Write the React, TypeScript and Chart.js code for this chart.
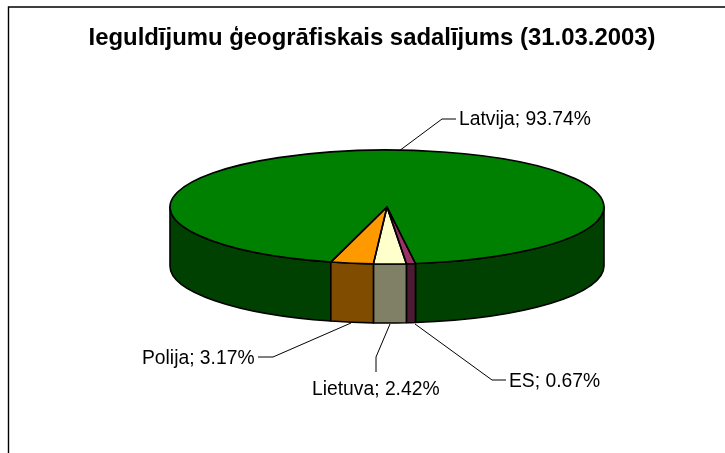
import React, { useEffect, useRef } from "react";
import { Chart, registerables } from "chart.js";

Chart.register(...registerables);

const titleText = "Ieguldījumu ģeogrāfiskais sadalījums (31.03.2003)";
const categories = ["Latvija", "ES", "Lietuva", "Polija"];
const values = [93.74, 0.67, 2.42, 3.17];
const colors = ["#008000", "#993366", "#FFFFCC", "#FF9900"];

// Layout of the tilted pie, in canvas pixels
const PIE = { cx: 387, cy: 207, rx: 217, ry: 57, depth: 59 };
// Label placement: text left, text middle y, leader polyline
const labelLayout = [
  { x: 459, y: 119.5, line: [[399, 151], [442, 119], [456, 119]] },
  { x: 509, y: 381.5, line: [[415, 324], [492, 380], [506, 380]] },
  { x: 312, y: 389.5, line: [[390, 324], [376, 357], [376, 372]] },
  { x: 142, y: 358.5, line: [[351, 323], [273, 357], [258, 357]] },
];

const halve = (hex: string) => {
  const n = parseInt(hex.slice(1), 16);
  const c = [(n >> 16) & 255, (n >> 8) & 255, n & 255].map((v) => Math.round(v / 2));
  return `rgb(${c[0]},${c[1]},${c[2]})`;
};

const tiltPlugin = {
  id: "tiltPlugin",
  beforeDraw(chart: any) {
    const { ctx, width, height } = chart;
    ctx.save();
    ctx.fillStyle = "#ffffff";
    ctx.fillRect(0, 0, width, height);
    ctx.strokeStyle = "#000000";
    ctx.lineWidth = 1.4;
    ctx.beginPath();
    ctx.moveTo(8.5, height + 2);
    ctx.lineTo(8.5, 7);
    ctx.lineTo(width + 2, 7);
    ctx.stroke();
    ctx.restore();
  },
  beforeDatasetsDraw(chart: any) {
    const { ctx } = chart;
    const arcs = chart.getDatasetMeta(0).data;
    ctx.save();
    ctx.lineWidth = 1.6;
    ctx.strokeStyle = "#000000";
    ctx.lineJoin = "round";
    arcs.forEach((arc: any, i: number) => {
      const twoPi = Math.PI * 2;
      for (let k = -1; k <= 2; k++) {
        const a = Math.max(arc.startAngle, k * twoPi);
        const b = Math.min(arc.endAngle, k * twoPi + Math.PI);
        if (b <= a) continue;
        ctx.beginPath();
        ctx.ellipse(PIE.cx, PIE.cy, PIE.rx, PIE.ry, 0, a, b);
        ctx.ellipse(PIE.cx, PIE.cy + PIE.depth, PIE.rx, PIE.ry, 0, b, a, true);
        ctx.closePath();
        ctx.fillStyle = halve(colors[i]);
        ctx.fill();
        ctx.stroke();
      }
    });
    ctx.restore();

    const el = arcs[0];
    ctx.save();
    ctx.translate(PIE.cx, PIE.cy);
    ctx.scale(PIE.rx / el.outerRadius, PIE.ry / el.outerRadius);
    ctx.translate(-el.x, -el.y);
  },
  afterDatasetsDraw(chart: any) {
    const { ctx } = chart;
    ctx.restore();
    const arcs = chart.getDatasetMeta(0).data;
    ctx.save();
    ctx.lineWidth = 1.6;
    ctx.strokeStyle = "#000000";
    ctx.lineJoin = "round";
    arcs.forEach((arc: any) => {
      ctx.beginPath();
      ctx.moveTo(PIE.cx, PIE.cy);
      ctx.ellipse(PIE.cx, PIE.cy, PIE.rx, PIE.ry, 0, arc.startAngle, arc.endAngle);
      ctx.closePath();
      ctx.stroke();
    });
    ctx.lineWidth = 1;
    labelLayout.forEach((l) => {
      ctx.beginPath();
      l.line.forEach(([x, y], j) => (j ? ctx.lineTo(x, y) : ctx.moveTo(x, y)));
      ctx.stroke();
    });
    ctx.fillStyle = "#000000";
    ctx.font = '19.3px "Liberation Sans", Arial, sans-serif';
    ctx.textAlign = "left";
    ctx.textBaseline = "middle";
    labelLayout.forEach((l, i) => {
      ctx.fillText(`${categories[i]}; ${values[i].toFixed(2)}%`, l.x, l.y);
    });
    ctx.restore();
  },
};

export default function App() {
  const ref = useRef<HTMLCanvasElement | null>(null);
  useEffect(() => {
    const chart = new Chart(ref.current as HTMLCanvasElement, {
      type: "pie",
      data: {
        labels: categories,
        datasets: [
          {
            data: values,
            backgroundColor: colors,
            borderWidth: 0,
            radius: 217,
          } as any,
        ],
      },
      options: {
        responsive: false,
        animation: false,
        rotation: 195,
        devicePixelRatio: 1,
        layout: { padding: { left: 19 } },
        plugins: {
          legend: { display: false },
          tooltip: { enabled: false },
          title: {
            display: true,
            text: titleText,
            color: "#000000",
            font: { family: '"Liberation Sans", Arial, sans-serif', size: 23.9, weight: "bold" },
            padding: { top: 24, bottom: 10 },
          },
        },
      } as any,
      plugins: [tiltPlugin],
    });
    return () => chart.destroy();
  }, []);
  return (
    <canvas
      ref={ref}
      width={725}
      height={453}
      style={{ position: "absolute", left: 0, top: 0, display: "block" }}
    />
  );
}
